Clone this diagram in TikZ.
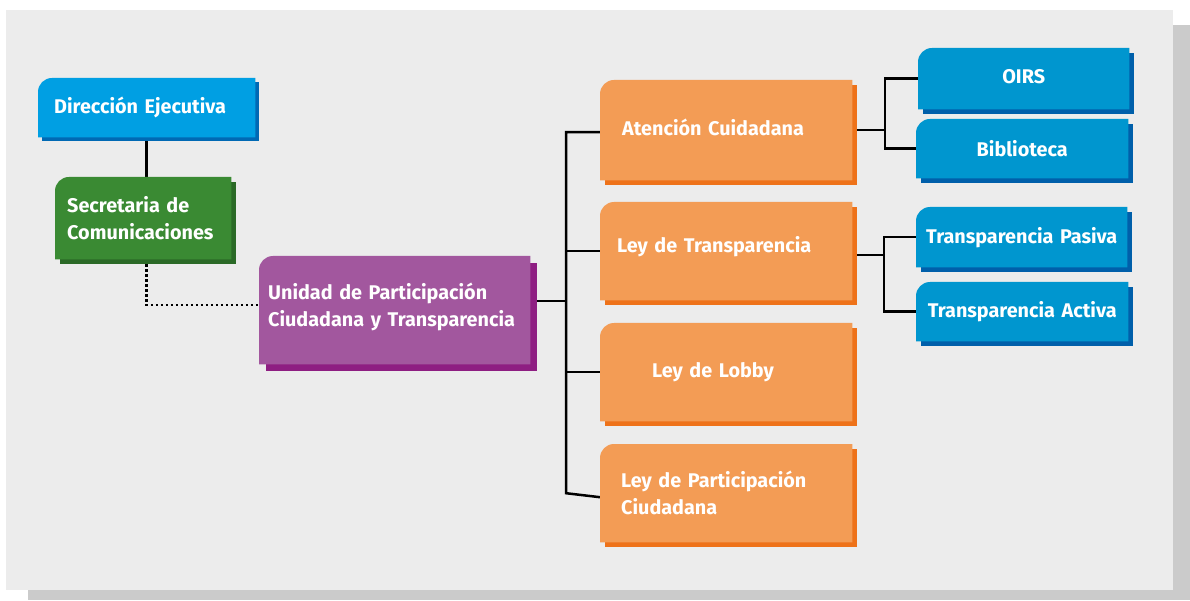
\documentclass[tikz,border=0pt]{standalone}
\usepackage{fontspec}
\setmainfont{Fira Sans}
\usetikzlibrary{backgrounds}

\definecolor{panel}{HTML}{ECECEC}
\definecolor{panelshade}{HTML}{CBCBCB}
\definecolor{direccion}{HTML}{009FE3}
\definecolor{direccionshade}{HTML}{0069B4}
\definecolor{secretaria}{HTML}{3A8A33}
\definecolor{secretariashade}{HTML}{2B6A27}
\definecolor{unidad}{HTML}{A2579E}
\definecolor{unidadshade}{HTML}{8E1E82}
\definecolor{ley}{HTML}{F39C55}
\definecolor{leyshade}{HTML}{EE7219}
\definecolor{sub}{HTML}{0096CF}
\definecolor{subshade}{HTML}{005FAA}

\begin{document}
\begin{tikzpicture}[x=1pt,y=1pt,
    box/.style={anchor=north west, inner ysep=0pt, text=white, align=left,
      font=\bfseries\fontsize{19.8}{27}\selectfont},
    subbox/.style={box, align=center, inner xsep=0pt},
    link/.style={line width=2.5pt},
    ]
	\useasboundingbox (0,0) rectangle (1190,600);

	% left column
	\node[box, inner xsep=16pt, text width=185pt, minimum height=59pt] (dir) at (38,522) {Dirección Ejecutiva};
	\node[box, inner xsep=12pt, text width=152pt, minimum height=82pt] (sec) at (55,423) {Secretaria de\\Comunicaciones};
	\node[box, inner xsep=9pt, text width=253pt, minimum height=108pt, text depth=38pt] (uni) at (259,344) {Unidad de Participación\\Ciudadana y Transparencia};

	% middle column
	\node[box, inner xsep=22pt, text width=208pt, minimum height=100pt, text depth=6pt] (ac) at (600,520) {Atención Cuidadana};
	\node[box, inner xsep=17pt, text width=218pt, minimum height=98pt, text depth=13pt] (lt) at (600,398) {Ley de Transparencia};
	\node[box, inner xsep=52pt, text width=148pt, minimum height=98pt] (ll) at (600,277) {Ley de Lobby};
	\node[box, inner xsep=21pt, text width=210pt, minimum height=98pt] (lpc) at (600,156) {Ley de Participación\\Ciudadana};

	% right column
	\node[subbox, text width=211pt, minimum height=61pt, text depth=5pt] (oirs) at (918,552) {OIRS};
	\node[subbox, text width=212pt, minimum height=59pt] (bib) at (916,481) {Biblioteca};
	\node[subbox, text width=211pt, minimum height=60pt] (tp) at (916,393) {Transparencia Pasiva};
	\node[subbox, text width=212pt, minimum height=59pt] (ta) at (916,318) {Transparencia Activa};

	\coordinate (trunk) at (566,0);
	\coordinate (acfork) at (885,0);
	\coordinate (ltfork) at (884,0);

	\begin{scope}[on background layer]
		\fill[panelshade] (28,0) rectangle (1190,575);
		\fill[panel] (6,10) rectangle (1173,590);

		% connectors first, boxes cover their ends
		\draw[link] (dir.south) -- (dir.south |- sec.north);
		\draw[line width=2.5pt, dash pattern=on 2.5pt off 2.5pt] (sec.south -| dir.south) |- ([yshift=5pt]uni.west);
		\draw[link] ([yshift=9pt]uni.east) -- ([yshift=9pt]uni.east -| trunk);
		\draw[link] ([yshift=-2pt]ac.west) -| (trunk |- lpc.west) -- ([yshift=-4pt]lpc.west);
		\draw[link] (trunk |- lt.west) -- (lt.west);
		\draw[link] (trunk |- ll.west) -- (ll.west);
		\draw[link] (ac.east) -- (ac.east -| acfork);
		\draw[link] (oirs.west) -| (acfork |- bib.west) -- (bib.west);
		\draw[link] ([yshift=-4pt]lt.east) -- ([yshift=-4pt]lt.east -| ltfork);
		\draw[link] (tp.west) -| (ltfork |- ta.west) -- (ta.west);

		\foreach \n/\c/\o in {dir/direccion/4, sec/secretaria/5, uni/unidad/7,
		    ac/ley/5, lt/ley/5, ll/ley/5, lpc/ley/5,
		    oirs/sub/5, bib/sub/5, tp/sub/5, ta/sub/5}{
			\fill[\c shade] ([shift={(\o pt,-\o pt)}]\n.south west) rectangle ([shift={(\o pt,-\o pt)}]\n.north east);
			\fill[\c] (\n.south west) -- ([yshift=-14pt]\n.north west)
			  arc[start angle=180, end angle=90, radius=14pt] -- (\n.north east) -- (\n.south east) -- cycle;
		}
	\end{scope}
\end{tikzpicture}
\end{document}
